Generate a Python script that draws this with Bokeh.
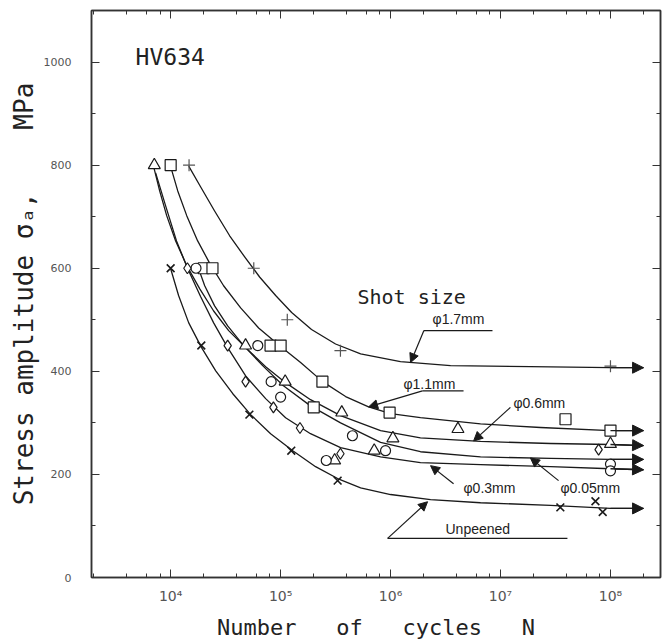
from bokeh.plotting import figure
from bokeh.models import (Range1d, LogAxis, LinearAxis, SingleIntervalTicker, LogTicker,
                          CustomJSTickFormatter, Arrow, NormalHead, Label)
from bokeh.core.properties import value
from bokeh.embed import file_html
from bokeh.resources import INLINE

# ---------------- data ----------------
# measured points
plus_N = [1.47e4, 5.7e4, 1.15e5, 3.5e5, 1e8]
plus_S = [800, 600, 500, 440, 410]
square_N = [1e4, 2.0e4, 2.4e4, 8.1e4, 1e5, 2.4e5, 2.0e5, 9.8e5, 3.9e7, 1e8]
square_S = [800, 600, 600, 450, 450, 380, 330, 320, 307, 285]
triangle_N = [7.1e3, 4.8e4, 1.1e5, 3.1e5, 3.6e5, 7.1e5, 1.05e6, 4.1e6, 1e8]
triangle_S = [800, 450, 380, 227, 320, 246, 270, 288, 259]
circle_N = [1.7e4, 6.2e4, 8.2e4, 1e5, 4.5e5, 2.6e5, 9e5, 1e8, 1e8]
circle_S = [600, 450, 380, 350, 275, 227, 246, 220, 207]
diamond_N = [1.42e4, 3.3e4, 4.8e4, 8.6e4, 1.5e5, 3.5e5, 7.8e7]
diamond_S = [600, 450, 380, 330, 290, 240, 248]
cross_N = [1e4, 1.9e4, 5.2e4, 1.25e5, 3.3e5, 3.5e7, 7.3e7, 8.5e7]
cross_S = [600, 450, 316, 246, 188, 136, 148, 127]

# fitted S-N curves
c17_N = [1.46e4, 1.87e4, 2.51e4, 3.44e4, 4.71e4, 6.44e4, 9.01e4, 1.26e5, 1.91e5, 3.16e5, 5.34e5, 1.23e6, 3.51e6, 1.87e7, 1e8, 2e8]
c17_S = [798, 758, 711, 663, 622, 583, 547, 514, 481, 453, 434, 419, 411, 409, 407, 407]
c11_N = [1e4, 1.16e4, 1.40e4, 1.76e4, 2.26e4, 3.03e4, 4.33e4, 6.31e4, 1e5, 1.52e5, 2.41e5, 3.90e5, 6.31e5, 1e6, 1.87e6, 6.58e6, 2.31e7, 1e8, 2e8]
c11_S = [797, 750, 702, 653, 610, 566, 523, 484, 448, 417, 380, 351, 331, 318, 310, 298, 291, 285, 285]
c06_N = [7.0e3, 7.94e3, 9.2e3, 1.11e4, 1.40e4, 1.84e4, 2.46e4, 3.37e4, 4.81e4, 7.31e4, 1.11e5, 1.87e5, 3.51e5, 8.11e5, 1.87e6, 6.58e6, 2.85e7, 1e8, 2e8]
c06_S = [797, 750, 702, 653, 605, 560, 517, 479, 446, 409, 378, 345, 314, 285, 271, 264, 260, 258, 256]
c005_N = [1.72e4, 2.04e4, 2.51e4, 3.30e4, 4.61e4, 6.86e4, 1.06e5, 1.87e5, 3.51e5, 8.11e5, 1.87e6, 6.58e6, 2.85e7, 1e8, 2e8]
c005_S = [610, 566, 527, 488, 450, 411, 372, 333, 300, 262, 244, 234, 231, 229, 229]
c03_N = [7.3e3, 9.0e3, 1.13e4, 1.43e4, 1.87e4, 2.46e4, 3.30e4, 4.81e4, 7.31e4, 1.11e5, 1.87e5, 3.51e5, 8.11e5, 1.87e6, 6.58e6, 2.85e7, 1e8, 2e8]
c03_S = [785, 721, 653, 599, 545, 494, 446, 391, 347, 310, 279, 252, 234, 223, 219, 215, 211, 209]
cun_N = [1e4, 1.18e4, 1.46e4, 1.91e4, 2.57e4, 3.66e4, 5.34e4, 8.11e4, 1.29e5, 2.08e5, 3.30e5, 5.34e5, 1e6, 2.31e6, 6.58e6, 2.85e7, 1e8, 2e8]
cun_S = [599, 547, 494, 446, 401, 357, 316, 279, 246, 215, 192, 174, 161, 151, 145, 140, 134, 134]

# annotation texts and their anchors
label_texts = ["\u03c61.7mm", "\u03c61.1mm", "\u03c60.6mm", "\u03c60.3mm", "\u03c60.05mm", "Unpeened"]
label_N = [2.41e6, 1.31e6, 1.31e7, 4.61e6, 3.51e7, 3.16e6]
label_S = [502, 376, 339, 174, 174, 95]
underline_N0 = [2.01e6, 1.95e6, 9.4e5]
underline_N1 = [8.45e6, 4.61e6, 4.06e7]
underline_S = [479, 362, 76]
leader_N0 = [2.01e6, 1.95e6, 1.23e7, 3.74e6, 3.37e7, 9.4e5]
leader_S0 = [479, 362, 330, 182, 188, 76]
leader_N1 = [1.52e6, 6.31e5, 5.69e6, 2.31e6, 1.87e7, 2.17e6]
leader_S1 = [417, 331, 265, 217, 232, 147]

y_ticks_interval = 200

# ---------------- figure ----------------
p = figure(x_axis_type="log", x_range=Range1d(10 ** 3.28, 10 ** 8.455), y_range=Range1d(0, 1100),
           frame_width=569, frame_height=567, min_border_left=91, min_border_right=4,
           min_border_top=10, min_border_bottom=61, output_backend="svg", toolbar_location=None,
           background_fill_color="white", border_fill_color="white")
p.grid.visible = False
p.outline_line_color = "#333333"
p.outline_line_width = 1.5

sup_code = """
const sup = {"0":"\u2070","1":"\u00b9","2":"\u00b2","3":"\u00b3","4":"\u2074","5":"\u2075","6":"\u2076","7":"\u2077","8":"\u2078","9":"\u2079","-":"\u207b"};
const e = Math.round(Math.log10(tick)).toString();
return "10" + e.split("").map(c => sup[c]).join("");
"""

xt = LogTicker()
yt = SingleIntervalTicker(interval=y_ticks_interval, num_minor_ticks=2)

for ax in [p.xaxis[0], p.yaxis[0]]:
    ax.major_tick_in = 8
    ax.major_tick_out = 0
    ax.minor_tick_in = 4
    ax.minor_tick_out = 0
    ax.axis_line_color = "#333333"
    ax.axis_line_width = 1.5
    ax.major_tick_line_color = "#333333"
    ax.minor_tick_line_color = "#333333"
    ax.major_label_text_color = "#555555"
    ax.major_label_text_font = "DejaVu Sans"
    ax.major_label_text_font_size = "11px"
    ax.axis_label_text_font = "DejaVu Sans Mono"
    ax.axis_label_text_font_style = "normal"
    ax.axis_label_text_color = "#222222"

p.xaxis[0].ticker = xt
p.xaxis[0].formatter = CustomJSTickFormatter(code=sup_code)
p.xaxis[0].major_label_text_font_size = "14px"
p.xaxis[0].major_label_standoff = 10
p.xaxis[0].axis_label = "Number\u00a0\u00a0\u00a0of\u00a0\u00a0\u00a0cycles\u00a0\u00a0\u00a0N"
p.xaxis[0].axis_label_text_font_size = "22px"
p.xaxis[0].axis_label_standoff = 8

p.yaxis[0].ticker = yt
p.yaxis[0].major_label_standoff = 20
p.yaxis[0].axis_label = "Stress\u00a0amplitude\u00a0\u03c3\u2090,\u00a0\u00a0\u00a0\u00a0MPa"
p.yaxis[0].axis_label_text_font_size = "26px"
p.yaxis[0].axis_label_standoff = 2

blank = CustomJSTickFormatter(code="return ''")
top = LogAxis(ticker=xt, formatter=blank, major_tick_in=8, major_tick_out=0, minor_tick_in=4,
              minor_tick_out=0, major_label_standoff=0, axis_line_color="#333333", axis_line_width=1.5,
              major_tick_line_color="#333333", minor_tick_line_color="#333333")
right = LinearAxis(ticker=yt, formatter=blank, major_tick_in=8, major_tick_out=0, minor_tick_in=4,
                   minor_tick_out=0, major_label_standoff=0, axis_line_color="#333333", axis_line_width=1.5,
                   major_tick_line_color="#333333", minor_tick_line_color="#333333")
p.add_layout(top, "above")
p.add_layout(right, "right")

# curves + end arrows
for cn, cs in [(c17_N, c17_S), (c11_N, c11_S), (c06_N, c06_S), (c005_N, c005_S), (c03_N, c03_S), (cun_N, cun_S)]:
    p.line(cn, cs, line_color="#1a1a1a", line_width=1.3, line_join="round")
    p.add_layout(Arrow(end=NormalHead(size=11, fill_color="#1a1a1a", line_color="#1a1a1a"),
                       x_start=cn[-2], y_start=cs[-2], x_end=cn[-1], y_end=cs[-1],
                       line_color="#1a1a1a", line_width=1.3))

# markers
mk = dict(line_color="#1a1a1a", line_width=1.2, fill_color="white")
p.scatter(plus_N, plus_S, marker="cross", size=12, line_color="#555555", line_width=1.2)
p.scatter(square_N, square_S, marker="square", size=11, **mk)
p.scatter(triangle_N, triangle_S, marker="triangle", size=12, **mk)
p.scatter(circle_N, circle_S, marker="circle", size=10, **mk)
p.scatter(diamond_N, diamond_S, marker="diamond", size=11, **mk)
p.scatter(cross_N, cross_S, marker="x", size=11, line_color="#1a1a1a", line_width=1.6)

# annotation leaders
p.segment(underline_N0, underline_S, underline_N1, underline_S, line_color="#1a1a1a", line_width=1.2)
for x0, y0, x1, y1 in zip(leader_N0, leader_S0, leader_N1, leader_S1):
    p.add_layout(Arrow(end=NormalHead(size=9, fill_color="#1a1a1a", line_color="#1a1a1a"),
                       x_start=x0, y_start=y0, x_end=x1, y_end=y1,
                       line_color="#1a1a1a", line_width=1.2))

p.text(label_N, label_S, text=label_texts, text_font=value("Liberation Sans"), text_font_size="14px",
       text_baseline="middle", text_align="left", text_color="#222222")

p.add_layout(Label(x=5.0e5, y=545, text="Shot size", text_font="DejaVu Sans Mono", text_font_size="20px",
                   text_baseline="middle", text_color="#222222"))
p.add_layout(Label(x=4.8e3, y=1010, text="HV634", text_font="DejaVu Sans Mono", text_font_size="23px",
                   text_baseline="middle", text_color="#222222"))

open("out.html", "w").write(file_html(p, INLINE))
